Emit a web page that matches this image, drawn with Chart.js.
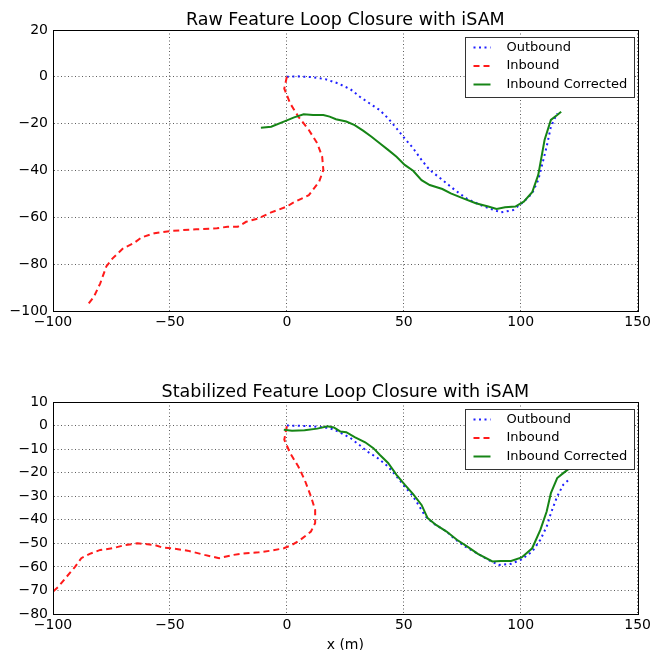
<!DOCTYPE html>
<html lang="en">
<head>
<meta charset="UTF-8" />
<title>Feature Loop Closure with iSAM</title>
<script src="https://cdn.jsdelivr.net/npm/chart.js"></script>
<style>
  html, body { margin: 0; padding: 0; background: #fff; overflow: hidden; }
  #wrap { position: relative; width: 654px; height: 650px; overflow: hidden; }
  canvas { position: absolute; left: 0; }
</style>
</head>
<body>
<div id="wrap">
  <canvas id="rawChart" width="654" height="330" style="top:0px"></canvas>
  <canvas id="stabChart" width="654" height="322" style="top:330px"></canvas>
</div>
<script>
// top plot: raw features
var rawOutX = [0, 5, 10.3, 16.5, 21.9, 27.2, 31.2, 35.3, 39.7, 43.3, 46.9, 50.4, 54, 57.6, 61.1, 66.5, 71.8, 77.2, 84.3, 91.5, 96.8, 101.3, 104.9, 107.5, 109.3, 111.1, 112.9, 115.6];
var rawOutY = [0, 0.2, -0.1, -1, -2.8, -5.3, -8.5, -11.3, -14.2, -17.7, -22, -26.3, -30.5, -35.5, -39.8, -44, -48.3, -52.2, -55.4, -57.9, -56.9, -53.3, -49.8, -44, -37, -29.8, -21.3, -15.6];

var rawInX = [0, -1.1, 1.4, 4.9, 9.4, 13, 15.1, 15.6, 13.8, 9.4, 2.2, 0, -6.7, -12, -17.4, -21, -25.4, -29.9, -38.8, -49.5, -56.6, -62, -65.6, -70, -74.5, -77.2, -79.8, -82.5, -85.2];
var rawInY = [0, -5, -11.3, -17, -22.7, -28.4, -34.1, -39.8, -44.8, -50.5, -54, -55.4, -57.9, -60.4, -61.9, -64, -64, -64.7, -65.1, -65.8, -66.8, -68.5, -71.1, -73.2, -77.5, -81, -88.2, -93.9, -97.4];

var rawCorX = [-11.1, -6.7, -1.3, 3.1, 7.2, 11.2, 15.6, 18.3, 21, 25.4, 29, 32.6, 36.2, 39.7, 43.3, 46.9, 50.4, 54, 57.6, 61.1, 66.5, 70.1, 75.4, 80.8, 86.1, 89.7, 93.3, 97.7, 101.3, 104.9, 107.5, 110.2, 112.9, 115.6, 117.3];
var rawCorY = [-21.7, -21.3, -19.1, -17.3, -16, -16.3, -16.3, -17, -18.1, -19.1, -20.6, -23, -25.6, -28.4, -31.2, -34.1, -37.6, -40.1, -44.1, -46.2, -47.9, -49.8, -51.9, -54, -55.4, -56.4, -55.7, -55.4, -53.3, -49.3, -41.9, -27, -18.4, -16.3, -14.9];

// bottom plot: stabilized features
var stabOutX = [0, 5.7, 11.2, 18.3, 21.9, 27.2, 30.8, 34.4, 38.8, 43.3, 46.9, 50.4, 54, 56.7, 59.3, 62.9, 68.3, 71.8, 76.3, 81.7, 86.1, 90.6, 95.9, 100.4, 104.9, 108.4, 111.1, 112.9, 115.6, 118.2, 120.9];
var stabOutY = [0, -0.1, -0.3, -1.1, -2.5, -5.3, -8.1, -11, -13.8, -17.4, -21.6, -25.9, -30.1, -34.4, -38.6, -41.7, -45, -48.2, -51.4, -54.5, -57, -59.2, -58.7, -56.8, -53.5, -48.5, -42.9, -37.2, -30.1, -25.1, -22.7];

var stabInX = [0, -1.1, 1.4, 4.9, 7.6, 10.3, 12.1, 12.1, 10.3, 5.8, 2.2, -1.3, -6.7, -12, -17.4, -22.7, -29, -35.2, -42.4, -49.5, -53.1, -56.6, -63.8, -69.1, -74.5, -79.8, -84.3, -87.9, -90.5, -94.1, -97.7, -100];
var stabInY = [-0.3, -6, -11.7, -17.4, -23, -30.1, -35.8, -41.4, -45, -48.5, -50.7, -52.1, -53.1, -53.8, -54.2, -54.9, -56.3, -54.9, -53.1, -52.1, -51.8, -50.7, -50, -50.7, -52.1, -52.8, -54.5, -56.3, -59.9, -64.1, -68.4, -70.5];

var stabCorX = [-1.3, 2.2, 7.6, 13, 17.4, 20.1, 22.8, 25.4, 29, 33.5, 37, 39.7, 43.3, 46.9, 50.4, 54, 57.6, 60.2, 63.8, 68.3, 72.7, 77.2, 81.7, 87.9, 91.5, 95.9, 100.4, 104.9, 108.4, 111.1, 112.9, 115.6, 118.2, 120.4];
var stabCorY = [-1.8, -2.2, -2, -1.3, -0.3, -0.8, -2.5, -2.8, -4.9, -7.1, -9.6, -12.4, -15.9, -20.9, -25.1, -29.1, -33.7, -39.3, -42.2, -45, -48.5, -51.4, -54.5, -57.7, -57.5, -57.5, -56, -52.1, -44.3, -36.5, -28.7, -22.3, -20.2, -18.5];

var seriesNames = ['Outbound', 'Inbound', 'Inbound Corrected'];

var FONT = "'DejaVu Sans', sans-serif";

function toPoints(xs, ys) {
    var pts = [];
    for (var i = 0; i < xs.length; i++) pts.push({ x: xs[i], y: ys[i] });
    return pts;
}

function minusSign(v) {
    return String(v).replace('-', '\u2212');
}

function makeDatasets(outX, outY, inX, inY, corX, corY) {
    return [
        { label: seriesNames[0], data: toPoints(outX, outY), borderColor: '#1f1fff', borderWidth: 2,
          borderDash: [2, 3.5], order: 3 },
        { label: seriesNames[1], data: toPoints(inX, inY), borderColor: '#ff1a1a', borderWidth: 2,
          borderDash: [6, 4], order: 2 },
        { label: seriesNames[2], data: toPoints(corX, corY), borderColor: '#168516', borderWidth: 2,
          order: 1 }
    ];
}

// frame, title centred over the plot area, and a matplotlib-like legend box
var framePlugin = {
    id: 'frameLegend',
    afterDraw: function (chart) {
        var a = chart.chartArea;
        var ctx = chart.ctx;
        ctx.save();
        ctx.setLineDash([]);
        ctx.strokeStyle = '#000';
        ctx.lineWidth = 1;
        ctx.strokeRect(Math.round(a.left) + 0.5, Math.round(a.top) + 0.5,
                       Math.round(a.right - a.left), Math.round(a.bottom - a.top));

        ctx.fillStyle = '#000';
        ctx.font = '17.5px ' + FONT;
        ctx.textAlign = 'center';
        ctx.textBaseline = 'alphabetic';
        ctx.fillText(chart.options.plotTitle, (a.left + a.right) / 2, a.top - 5);
        ctx.textAlign = 'left';

        var bx = Math.round(a.right) - 172.5, by = Math.round(a.top) + 7.5, bw = 169, bh = 60;
        ctx.fillStyle = '#fff';
        ctx.fillRect(bx, by, bw, bh);
        ctx.strokeStyle = '#333';
        ctx.strokeRect(bx, by, bw, bh);
        ctx.font = '13px ' + FONT;
        ctx.textBaseline = 'middle';
        chart.data.datasets.forEach(function (ds, i) {
            var ry = by + 10 + i * 18.5;
            ctx.strokeStyle = ds.borderColor;
            ctx.lineWidth = ds.borderWidth;
            ctx.setLineDash(ds.borderDash || []);
            ctx.beginPath();
            ctx.moveTo(bx + 8, ry);
            ctx.lineTo(bx + 25, ry);
            ctx.stroke();
            ctx.setLineDash([]);
            ctx.fillStyle = '#000';
            ctx.fillText(ds.label, bx + 41, ry);
        });
        ctx.restore();
    }
};

function makeChart(id, title, datasets, yMin, yMax, yStep, topPad, xAxisH, xTitle) {
    return new Chart(document.getElementById(id), {
        type: 'scatter',
        data: { datasets: datasets.map(function (d) {
            d.showLine = true; d.pointRadius = 0; d.fill = false; return d;
        }) },
        options: {
            plotTitle: title,
            responsive: false,
            animation: false,
            layout: { padding: { left: 0, right: 14, top: topPad, bottom: 0 } },
            plugins: {
                legend: { display: false },
                tooltip: { enabled: false },
                title: { display: false }
            },
            scales: {
                x: {
                    type: 'linear', min: -100, max: 150,
                    afterFit: function (s) { s.height = xAxisH; },
                    ticks: { stepSize: 50, color: '#000', padding: 3, maxRotation: 0,
                             font: { family: FONT, size: 14 }, callback: minusSign },
                    grid: { color: 'rgba(0,0,0,0.8)', lineWidth: 0.8, drawTicks: false },
                    border: { display: true, color: '#000', dash: [1, 2.5] },
                    title: { display: !!xTitle, text: xTitle || '', color: '#000',
                             font: { family: FONT, size: 14, lineHeight: 1 },
                             padding: { top: 0, bottom: 0 } }
                },
                y: {
                    type: 'linear', min: yMin, max: yMax,
                    afterFit: function (s) { s.width = 53; },
                    ticks: { stepSize: yStep, color: '#000', padding: 5,
                             font: { family: FONT, size: 14 }, callback: minusSign },
                    grid: { color: 'rgba(0,0,0,0.8)', lineWidth: 0.8, drawTicks: false },
                    border: { display: true, color: '#000', dash: [1, 2.5] }
                }
            }
        },
        plugins: [framePlugin]
    });
}

makeChart('rawChart', 'Raw Feature Loop Closure with iSAM',
    makeDatasets(rawOutX, rawOutY, rawInX, rawInY, rawCorX, rawCorY),
    -100, 20, 20, 30, 19, null);

makeChart('stabChart', 'Stabilized Feature Loop Closure with iSAM',
    makeDatasets(stabOutX, stabOutY, stabInX, stabInY, stabCorX, stabCorY),
    -80, 10, 10, 72, 38, 'x (m)');
</script>
</body>
</html>
